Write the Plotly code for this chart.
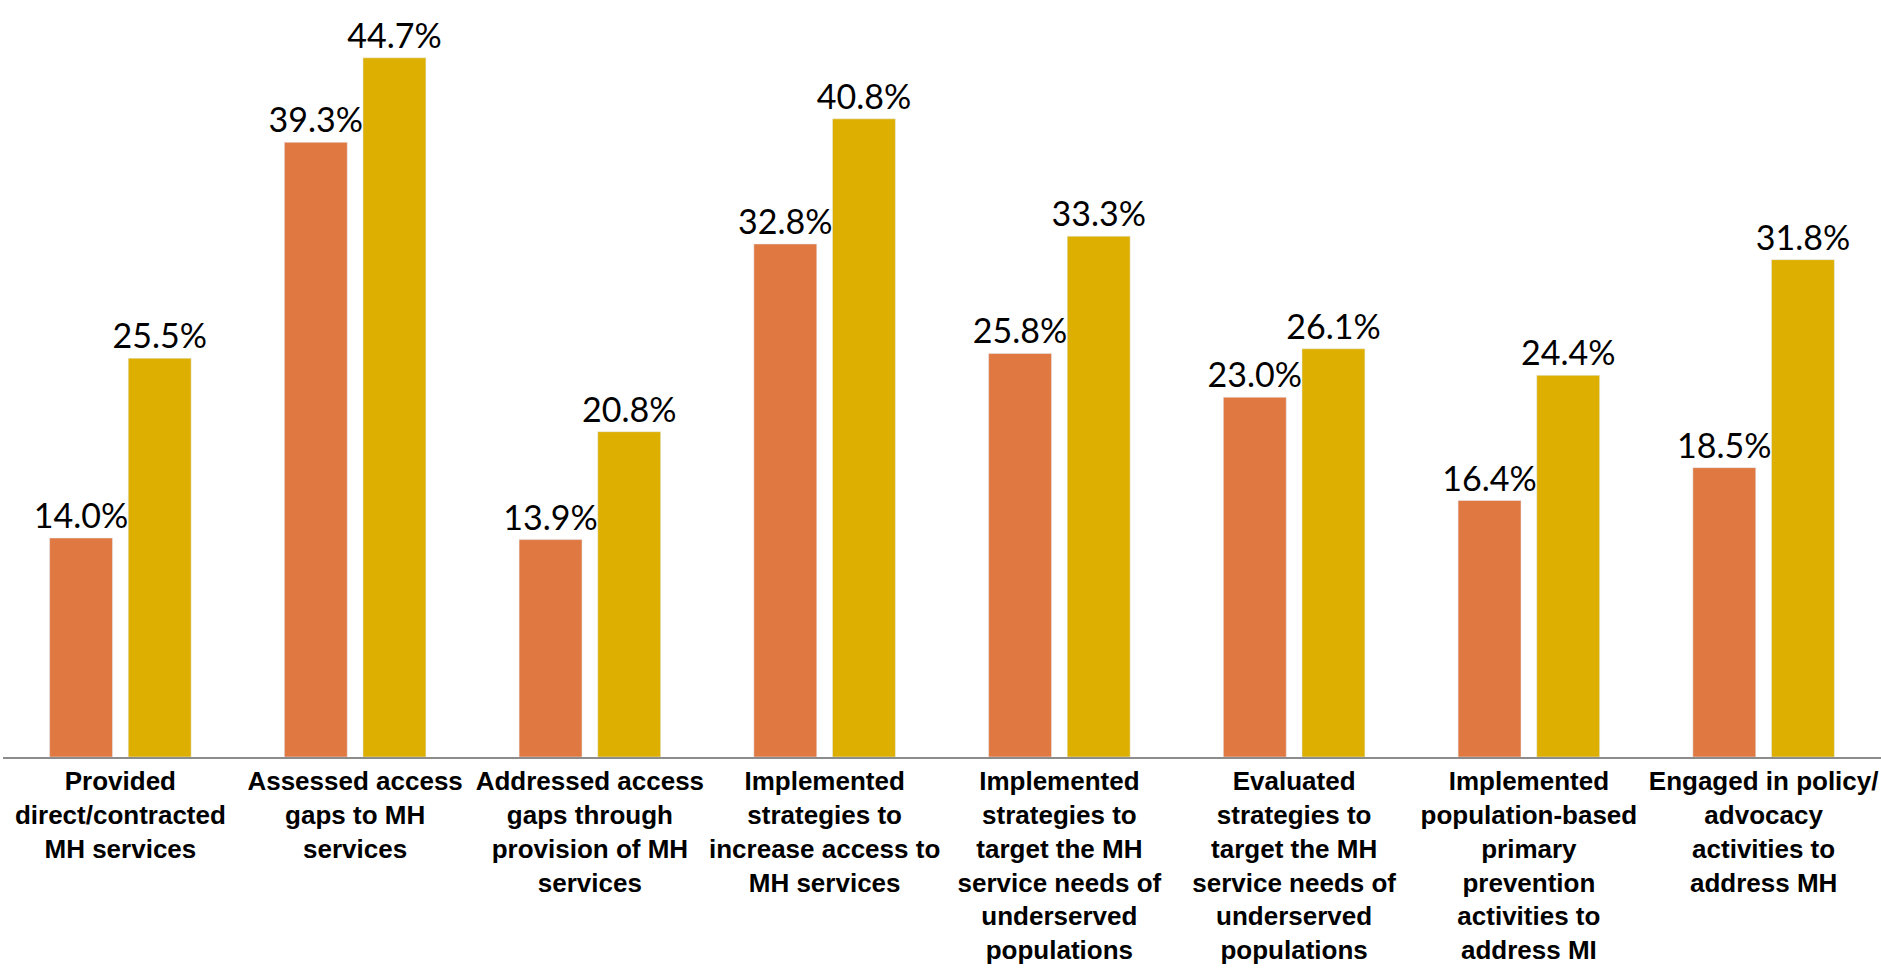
import plotly.graph_objects as go

categories = [
    "Provided<br>direct/contracted<br>MH services",
    "Assessed access<br>gaps to MH<br>services",
    "Addressed access<br>gaps through<br>provision of MH<br>services",
    "Implemented<br>strategies to<br>increase access to<br>MH services",
    "Implemented<br>strategies to<br>target the MH<br>service needs of<br>underserved<br>populations",
    "Evaluated<br>strategies to<br>target the MH<br>service needs of<br>underserved<br>populations",
    "Implemented<br>population-based<br>primary<br>prevention<br>activities to<br>address MI",
    "Engaged in policy/<br>advocacy<br>activities to<br>address MH",
]
series_a = [14.0, 39.3, 13.9, 32.8, 25.8, 23.0, 16.4, 18.5]
series_b = [25.5, 44.7, 20.8, 40.8, 33.3, 26.1, 24.4, 31.8]

label_font = dict(family="Lato, Open Sans, sans-serif", size=34, color="black")

fig = go.Figure()
fig.add_trace(go.Bar(
    x=categories, y=series_a, marker_color="#E07841",
    text=[f"{v:.1f}%" for v in series_a], textposition="outside",
    textfont=label_font, cliponaxis=False, hoverinfo="skip",
))
fig.add_trace(go.Bar(
    x=categories, y=series_b, marker_color="#DDAF00",
    text=[f"{v:.1f}%" for v in series_b], textposition="outside",
    textfont=label_font, cliponaxis=False, hoverinfo="skip",
))

fig.update_layout(
    width=1881, height=974,
    margin=dict(l=3, r=0, t=0, b=217, autoexpand=False),
    barmode="group", bargap=0.33, bargroupgap=0.2,
    showlegend=False,
    plot_bgcolor="white", paper_bgcolor="white",
)
fig.update_xaxes(
    showline=True, linecolor="#8C8C8C", linewidth=2,
    tickfont=dict(family="Liberation Sans, Arial, sans-serif", size=26,
                  color="black", weight="bold"),
    tickangle=0, automargin=False, showgrid=False, ticks="",
)
fig.update_yaxes(
    range=[0, 48.4], visible=False, showgrid=False, zeroline=False,
)
fig.update_traces(textangle=0, constraintext="none")

fig.write_html("out.html")
